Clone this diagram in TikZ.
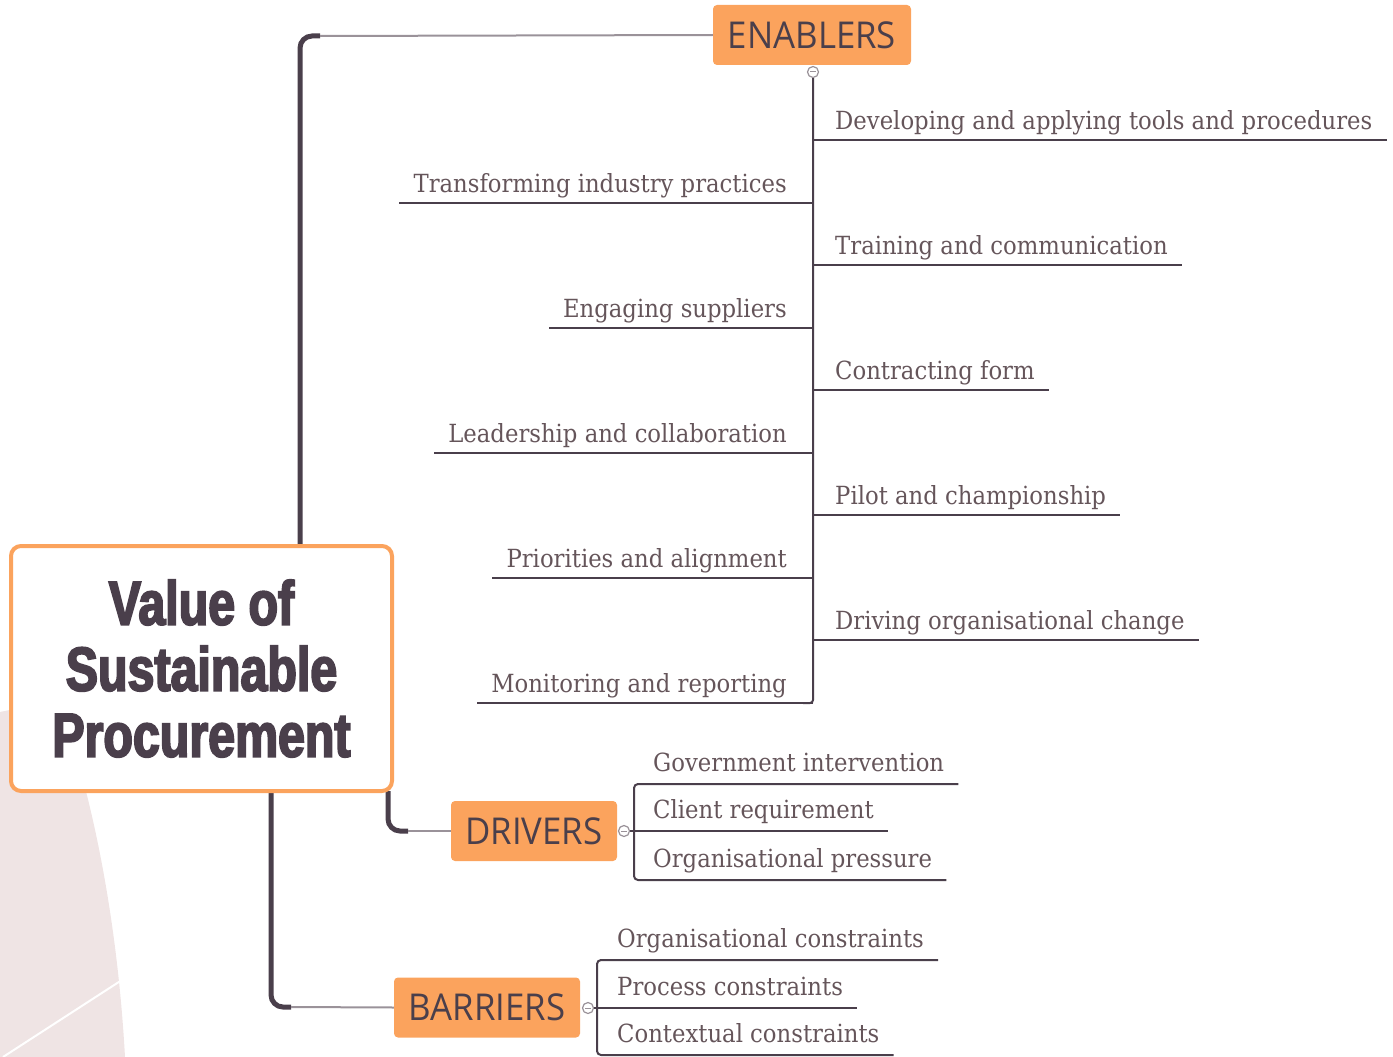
\documentclass[tikz,border=0pt]{standalone}
\usepackage{fontspec}
\setmainfont{DejaVu Serif}[FakeStretch=0.91]
\newfontfamily\boxfont{Open Sans}[FakeStretch=0.94]
\newfontfamily\titlefont{Liberation Sans}[FakeStretch=0.78,FakeBold=3]
\usepackage{tikz}
\usetikzlibrary{positioning}
\definecolor{boxorange}{HTML}{FBA35D}
\definecolor{ink}{HTML}{4A3F4B}
\definecolor{itemtext}{HTML}{65555A}
\definecolor{thinline}{HTML}{9A9299}
\definecolor{blush}{HTML}{EFE4E4}
\def\itemsize{\fontsize{25}{25}\selectfont}

\begin{document}
\begin{tikzpicture}[x=1pt, y=-1pt,
    cat/.style={fill=boxorange, rounded corners=4pt, text=ink, minimum height=60pt, inner sep=0pt, font=\boxfont\fontsize{37}{37}\selectfont},
    leaf/.style={text=itemtext, inner xsep=14pt, inner ysep=0pt, font=\itemsize},
    spine/.style={draw=ink, line width=2pt},
    trunk/.style={draw=ink, line width=5pt, rounded corners=12pt},
    twig/.style={draw=thinline, line width=2pt},
    knob/.style={circle, draw=thinline, fill=white, line width=1.2pt, minimum size=11pt, inner sep=0pt}]
    \useasboundingbox (0,0) rectangle (1393,1057);
    % sfondo
    \fill[blush] (0,712) -- (58,700) .. controls (95,800) and (118,930) .. (125,1057) -- (0,1057) -- cycle;
    \draw[white, line width=2pt] (3,1057) -- (125,978);
    % rami principali
    \draw[trunk] (300,546) |- (320,36);
    \draw[trunk] (388,791) |- (408,831);
    \draw[trunk] (271,791) |- (291,1007);
    % nodo centrale
    \node[align=center, font=\titlefont\bfseries\fontsize{62}{66}\selectfont, text=ink, draw=boxorange, line width=4pt, rounded corners=10pt, fill=white, minimum width=381pt, minimum height=245pt] (root) at (201.5,668.5) {Value of\\Sustainable\\Procurement};
    % categorie
    \node[cat, minimum width=198pt] (enablers) at (812,35) {ENABLERS};
    \node[cat, minimum width=166pt] (drivers) at (534,831) {DRIVERS};
    \node[cat, minimum width=186pt] (barriers) at (487,1007.5) {BARRIERS};
    \draw[twig] (320,36) -- (enablers.west);
    \draw[twig] (408,831) -- (drivers.west);
    \draw[twig] (291,1007) -- (barriers.west);
    % Enablers
    \node[knob] (kE) at (813,72) {};
    \draw[thinline, line width=1pt] ([xshift=-3]kE.center) -- ([xshift=3]kE.center);
    \coordinate (s1) at (813,140);
    \coordinate (s2) at (813,203);
    \coordinate (s3) at (813,265);
    \coordinate (s4) at (813,328);
    \coordinate (s5) at (813,390);
    \coordinate (s6) at (813,453);
    \coordinate (s7) at (813,515);
    \coordinate (s8) at (813,578);
    \coordinate (s9) at (813,640);
    \coordinate (s10) at (813,703);
    \draw[spine, rounded corners=3pt] (kE.south) -- (s10) -- (803,703);
    \node[leaf, anchor=base west] (e1) at (821,129) {Developing and applying tools and procedures};
    \node[leaf, anchor=base east] (e2) at (801,192) {Transforming industry practices};
    \node[leaf, anchor=base west] (e3) at (821,254) {Training and communication};
    \node[leaf, anchor=base east] (e4) at (801,317) {Engaging suppliers};
    \node[leaf, anchor=base west] (e5) at (821,379) {Contracting form};
    \node[leaf, anchor=base east] (e6) at (801,442) {Leadership and collaboration};
    \node[leaf, anchor=base west] (e7) at (821,504) {Pilot and championship};
    \node[leaf, anchor=base east] (e8) at (801,567) {Priorities and alignment};
    \node[leaf, anchor=base west] (e9) at (821,629) {Driving organisational change};
    \node[leaf, anchor=base east] (e10) at (801,692) {Monitoring and reporting};
    \draw[spine] (s1) -- (s1 -| e1.east);
    \draw[spine] (s2) -- (s2 -| e2.west);
    \draw[spine] (s3) -- (s3 -| e3.east);
    \draw[spine] (s4) -- (s4 -| e4.west);
    \draw[spine] (s5) -- (s5 -| e5.east);
    \draw[spine] (s6) -- (s6 -| e6.west);
    \draw[spine] (s7) -- (s7 -| e7.east);
    \draw[spine] (s8) -- (s8 -| e8.west);
    \draw[spine] (s9) -- (s9 -| e9.east);
    \draw[spine] (s10) -- (s10 -| e10.west);
    % Drivers
    \node[knob] (kD) at (624,831) {};
    \draw[thinline, line width=1pt] ([xshift=-3]kD.center) -- ([xshift=3]kD.center);
    \node[leaf, anchor=base west] (d1) at (639,771) {Government intervention};
    \node[leaf, anchor=base west] (d2) at (639,818) {Client requirement};
    \node[leaf, anchor=base west] (d3) at (639,867) {Organisational pressure};
    \draw[spine, rounded corners=4pt] (d1.east |- 0,784) -- (634,784) -- (634,880) -- (d3.east |- 0,880);
    \draw[spine] (kD.east) -- (d2.east |- kD.east);
    % Barriers
    \node[knob] (kB) at (588,1008) {};
    \draw[thinline, line width=1pt] ([xshift=-3]kB.center) -- ([xshift=3]kB.center);
    \node[leaf, anchor=base west] (b1) at (603,947) {Organisational constraints};
    \node[leaf, anchor=base west] (b2) at (603,995) {Process constraints};
    \node[leaf, anchor=base west] (b3) at (603,1042) {Contextual constraints};
    \draw[spine, rounded corners=4pt] (b1.east |- 0,960) -- (597,960) -- (597,1055) -- (b3.east |- 0,1055);
    \draw[spine] (kB.east) -- (b2.east |- kB.east);
\end{tikzpicture}
\end{document}
